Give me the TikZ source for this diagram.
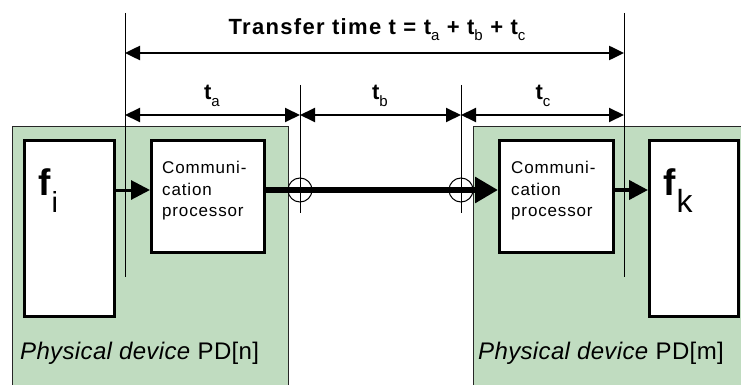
\documentclass[tikz,border=0pt]{standalone}
\usepackage{fontspec}
\setmainfont{Liberation Sans}
\usetikzlibrary{arrows.meta}
\definecolor{devgreen}{RGB}{192,220,192}
\tikzset{
  devbox/.style={draw=black!85, line width=1pt, fill=devgreen, anchor=north west, inner sep=0pt},
  fbox/.style={draw=black, line width=2.5pt, fill=white, anchor=north west, inner sep=0pt},
  vline/.style={draw=black, line width=0.8pt},
  dimarrow/.style={line width=2pt, {Triangle[length=15pt,width=14pt]}-{Triangle[length=15pt,width=14pt]}},
  flowarrow/.style={line width=3pt, -{Triangle[length=19pt,width=19pt]}},
  linkarrow/.style={line width=6pt, -{Triangle[length=23pt,width=25pt]}},
  ring/.style={draw=black, line width=1pt, circle, minimum size=24pt, inner sep=0pt},
  comtext/.style={font=\fontsize{17}{21.5}\selectfont\addfontfeatures{LetterSpace=5}, align=left, anchor=west, inner sep=0pt},
  devtext/.style={font=\fontsize{24}{28}\selectfont\addfontfeatures{LetterSpace=1.5}, anchor=base west, inner sep=0pt},
  dimtext/.style={font=\fontsize{22}{24}\selectfont\bfseries\addfontfeatures{LetterSpace=6}, anchor=base, inner sep=0pt},
  ftext/.style={inner sep=0pt, anchor=base west, font=\fontsize{37}{40}\selectfont\bfseries},
}
\newcommand{\fsub}[2]{\raisebox{-17pt}{\fontsize{#1}{#1}\selectfont\mdseries #2}}
\newcommand{\tsub}[1]{\raisebox{-6pt}{\fontsize{15}{15}\selectfont\mdseries #1}}
\begin{document}
\begin{tikzpicture}[x=1pt,y=-1pt]
\useasboundingbox (0,0) rectangle (741,385);
\clip (0,0) rectangle (741,385);
% physical devices
\node[devbox, minimum width=276pt, minimum height=270pt] (devL) at (12,126) {};
\node[devbox, minimum width=280pt, minimum height=270pt] (devR) at (473,126) {};
% function boxes
\node[fbox, minimum width=90pt, minimum height=176pt] (fi) at (23,139) {};
\node[fbox, minimum width=89pt, minimum height=176pt] (fk) at (648,139) {};
\node[fbox, minimum width=113pt, minimum height=112pt] (cpL) at (150,139) {};
\node[fbox, minimum width=114pt, minimum height=112pt] (cpR) at (498,139) {};
% texts in boxes
\node[ftext] (fiT) at (38,195) {f\kern1pt\fsub{29}{i}};
\node[ftext] (fkT) at (663,195) {f\kern1pt\fsub{32}{k}};
\node[comtext] (cpLT) at (162,191) {Communi-\\cation\\processor};
\node[comtext] (cpRT) at (511,191) {Communi-\\cation\\processor};
\node[devtext] (devLT) at (20,359) {\textit{Physical device} PD[n]};
\node[devtext] (devRT) at (478,359) {\textit{Physical device} PD[m]};
% vertical reference lines
\coordinate (v1t) at (125,13);  \coordinate (v1b) at (125,277);
\coordinate (v2t) at (300,85);  \coordinate (v2b) at (300,213);
\coordinate (v3t) at (461,85);  \coordinate (v3b) at (461,213);
\coordinate (v4t) at (624,13);  \coordinate (v4b) at (624,277);
\draw[vline] (v1t) -- (v1b);
\draw[vline] (v2t) -- (v2b);
\draw[vline] (v3t) -- (v3b);
\draw[vline] (v4t) -- (v4b);
% flow
\draw[flowarrow] (fi.east |- 0,190) -- (cpL.west |- 0,190);
\draw[flowarrow, line width=4pt] (cpR.east |- 0,190) -- (fk.west |- 0,190);
\draw[linkarrow] (cpL.east |- 0,190) -- (cpR.west |- 0,190);
\node[ring] (rL) at (300,190) {};
\node[ring] (rR) at (461,190) {};
% dimension arrows
\coordinate (d0l) at (125,53); \coordinate (d0r) at (624,53);
\draw[dimarrow, line width=2.5pt] (d0l) -- (d0r);
\coordinate (d1) at (125,115); \coordinate (d2) at (300,115);
\coordinate (d3) at (461,115); \coordinate (d4) at (624,115);
\draw[dimarrow] (d1) -- (d2);
\draw[dimarrow] (d2) -- (d3);
\draw[dimarrow] (d3) -- (d4);
\node[dimtext] (title) at (377,35) {Transfer time t = t\tsub{a} + t\tsub{b} + t\tsub{c}};
\node[dimtext] (ta) at (212,100) {t\tsub{a}};
\node[dimtext] (tb) at (380,100) {t\tsub{b}};
\node[dimtext] (tc) at (543,100) {t\tsub{c}};
\end{tikzpicture}
\end{document}
